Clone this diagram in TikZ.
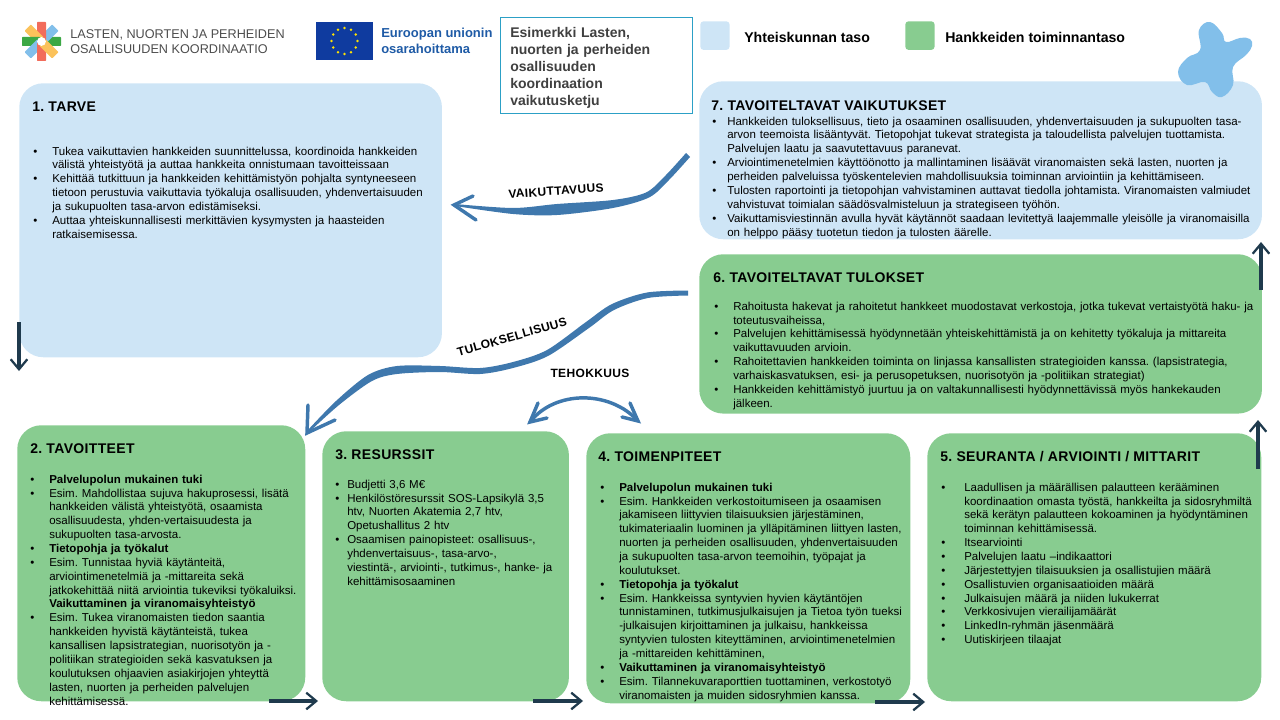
\documentclass[tikz,border=0pt]{standalone}
\usepackage{fontspec}
\setmainfont{Liberation Sans}
\usetikzlibrary{arrows.meta}
\frenchspacing
\definecolor{lightb}{HTML}{CEE5F6}
\definecolor{greenb}{HTML}{88CC90}
\definecolor{blobc}{HTML}{82BFEA}
\definecolor{brush}{HTML}{3F78AD}
\definecolor{darkarr}{HTML}{1F3A4D}
\definecolor{lgreen}{HTML}{3CA845}
\definecolor{lred}{HTML}{F26C5B}
\definecolor{lyellow}{HTML}{FBC25B}
\definecolor{eublue}{HTML}{0F3B9F}
\definecolor{eutext}{HTML}{1F5BA6}
\newlength{\ind}
\newcommand{\itm}{\par\leavevmode\llap{\makebox[\ind][l]{\textbullet}}}
\newcommand{\nob}{\par\leavevmode}
\tikzset{
	card/.style={anchor=north west,inner sep=0pt,rounded corners=18pt},
	tbox/.style={card,fill=lightb},
	gbox/.style={card,fill=greenb},
	swatch/.style={anchor=north west,inner sep=0pt,rounded corners=2.5pt,minimum width=22pt,minimum height=21.5pt},
	legend/.style={anchor=west,inner sep=0pt,font=\bfseries\fontsize{10.6}{12}\selectfont},
	head/.style={anchor=west,inner sep=0pt,font=\bfseries\fontsize{10.5}{12}\selectfont\addfontfeature{LetterSpace=2.4}},
	body/.style={anchor=north west,inner sep=0pt,text width=420pt,align=left,font=\fontsize{8.62}{10.4}\selectfont},
	flow/.style={draw=darkarr,line width=2.4pt,-{Straight Barb[length=7.5pt,width=12.5pt,line width=1.7pt]}},
	brushed/.style={draw=brush,line width=2.6pt,line cap=round},
	word/.style={inner sep=0pt,font=\bfseries\fontsize{9}{11}\selectfont\addfontfeature{LetterSpace=3}}
}
\begin{document}
\begin{tikzpicture}[x=0.75pt,y=-0.75pt]
\useasboundingbox (0,0) rectangle (1280,720);
\node[tbox,minimum width=317pt,minimum height=205.5pt] (tarve) at (19,83) {};
\node[tbox,minimum width=422pt,minimum height=118.5pt] (vaikutukset) at (699,81) {};
\node[gbox,minimum width=422pt,minimum height=119.5pt] (tulokset) at (699,254) {};
\node[gbox,minimum width=216pt,minimum height=207pt] (tavoitteet) at (17,425) {};
\node[gbox,minimum width=185pt,minimum height=202.5pt] (resurssit) at (322,431) {};
\node[gbox,minimum width=243pt,minimum height=202.5pt] (toimenpiteet) at (586,433) {};
\node[gbox,minimum width=250.5pt,minimum height=201pt] (seuranta) at (927,433) {};
\fill[blobc] plot[smooth cycle,tension=0.7] coordinates {(1210,22) (1222,33) (1226,42) (1240,38) (1250,39) (1252,46) (1246,55) (1233,67) (1233,85) (1222,97) (1212,92) (1205,82) (1187,85) (1178,72) (1187,58) (1200,50) (1199,30)};
\node[swatch,fill=lightb] (taso1) at (700,21) {};
\node[swatch,fill=greenb] (taso2) at (905,21) {};
\node[legend] (taso1txt) at (744,37) {Yhteiskunnan taso};
\node[legend] (taso2txt) at (945,37) {Hankkeiden toiminnantaso};
\node[draw=brush!70!cyan,line width=0.8pt,fill=white,anchor=north west,inner sep=0pt,minimum width=144pt,minimum height=72pt] (otsikko) at (500,17) {};
\node[anchor=north west,inner sep=0pt,text width=140pt,align=left,text=black!75,font=\bfseries\fontsize{10.5}{12.7}\selectfont] (otsikkotxt) at (510,27.5) {Esimerkki Lasten,\\nuorten ja perheiden\\osallisuuden\\koordinaation\\vaikutusketju};
\foreach \a/\c in {0/lgreen,45/blobc,90/lred,135/lyellow,180/lgreen,225/blobc,270/lred,315/lyellow}
	\fill[\c,rounded corners=0.5pt,rotate around={\a:(41.5,41.5)}] (43,37) rectangle (61,46);
\fill[white] (41.5,41.5) circle (3.3pt);
\node[anchor=west,inner sep=0pt,text=black!70,align=left,font=\fontsize{9.5}{11.3}\selectfont] (logotxt) at (70,42) {LASTEN, NUORTEN JA PERHEIDEN\\OSALLISUUDEN KOORDINAATIO};
\fill[eublue] (316,22) rectangle (373,60);
\foreach \a in {0,30,...,330}
	\fill[yellow!85!orange] (344.5,41)+(\a:13) circle (1.1pt);
\node[anchor=west,inner sep=0pt,text=eutext,align=left,font=\bfseries\fontsize{9.75}{12}\selectfont] (eutxt) at (381,40.5) {Euroopan unionin\\osarahoittama};

\node[head] (h1) at (32,107) {1. TARVE};
\node[head] (h2) at (30,449) {2. TAVOITTEET};
\node[head] (h3) at (335,455) {3. RESURSSIT};
\node[head] (h4) at (598,457) {4. TOIMENPITEET};
\node[head] (h5) at (940,457) {5. SEURANTA / ARVIOINTI / MITTARIT};
\node[head] (h6) at (713,278) {6. TAVOITELTAVAT TULOKSET};
\node[head] (h7) at (711,106) {7. TAVOITELTAVAT VAIKUTUKSET};

\node[body] (t1) at (52,141) {\setlength{\ind}{14.25pt}
	\itm Tukea vaikuttavien hankkeiden suunnittelussa, koordinoida hankkeiden\\
	välistä yhteistyötä ja auttaa hankkeita onnistumaan tavoitteissaan
	\itm Kehittää tutkittuun ja hankkeiden kehittämistyön pohjalta syntyneeseen\\
	tietoon perustuvia vaikuttavia työkaluja osallisuuden, yhdenvertaisuuden\\
	ja sukupuolten tasa-arvon edistämiseksi.
	\itm Auttaa yhteiskunnallisesti merkittävien kysymysten ja haasteiden\\
	ratkaisemisessa.};
\node[body] (t2) at (49,469) {\setlength{\ind}{14.25pt}
	\itm \textbf{Palvelupolun mukainen tuki}
	\itm Esim. Mahdollistaa sujuva hakuprosessi, lisätä\\
	hankkeiden välistä yhteistyötä, osaamista\\
	osallisuudesta, yhden-vertaisuudesta ja\\
	sukupuolten tasa-arvosta.
	\itm \textbf{Tietopohja ja työkalut}
	\itm Esim. Tunnistaa hyviä käytänteitä,\\
	arviointimenetelmiä ja -mittareita sekä\\
	jatkokehittää niitä arviointia tukeviksi työkaluiksi.
	\nob \textbf{Vaikuttaminen ja viranomaisyhteistyö}
	\itm Esim. Tukea viranomaisten tiedon saantia\\
	hankkeiden hyvistä käytänteistä, tukea\\
	kansallisen lapsistrategian, nuorisotyön ja -\\
	politiikan strategioiden sekä kasvatuksen ja\\
	koulutuksen ohjaavien asiakirjojen yhteyttä\\
	lasten, nuorten ja perheiden palvelujen\\
	kehittämisessä.};
\node[body] (t3) at (347,474) {\setlength{\ind}{9pt}
	\itm Budjetti 3,6 M€
	\itm Henkilöstöresurssit SOS-Lapsikylä 3,5\\
	htv, Nuorten Akatemia 2,7 htv,\\
	Opetushallitus 2 htv
	\itm Osaamisen painopisteet: osallisuus-,\\
	yhdenvertaisuus-, tasa-arvo-,\\
	viestintä-, arviointi-, tutkimus-, hanke- ja\\
	kehittämisosaaminen};
\node[body] (t4) at (619,477) {\setlength{\ind}{14.25pt}
	\itm \textbf{Palvelupolun mukainen tuki}
	\itm Esim. Hankkeiden verkostoitumiseen ja osaamisen\\
	jakamiseen liittyvien tilaisuuksien järjestäminen,\\
	tukimateriaalin luominen ja ylläpitäminen liittyen lasten,\\
	nuorten ja perheiden osallisuuden, yhdenvertaisuuden\\
	ja sukupuolten tasa-arvon teemoihin, työpajat ja\\
	koulutukset.
	\itm \textbf{Tietopohja ja työkalut}
	\itm Esim. Hankkeissa syntyvien hyvien käytäntöjen\\
	tunnistaminen, tutkimusjulkaisujen ja Tietoa työn tueksi\\
	-julkaisujen kirjoittaminen ja julkaisu, hankkeissa\\
	syntyvien tulosten kiteyttäminen, arviointimenetelmien\\
	ja -mittareiden kehittäminen,
	\itm \textbf{Vaikuttaminen ja viranomaisyhteistyö}
	\itm Esim. Tilannekuvaraporttien tuottaminen, verkostotyö\\
	viranomaisten ja muiden sidosryhmien kanssa.};
\node[body] (t5) at (964,477) {\setlength{\ind}{17.25pt}
	\itm Laadullisen ja määrällisen palautteen kerääminen\\
	koordinaation omasta työstä, hankkeilta ja sidosryhmiltä\\
	sekä kerätyn palautteen kokoaminen ja hyödyntäminen\\
	toiminnan kehittämisessä.
	\itm Itsearviointi
	\itm Palvelujen laatu –indikaattori
	\itm Järjestettyjen tilaisuuksien ja osallistujien määrä
	\itm Osallistuvien organisaatioiden määrä
	\itm Julkaisujen määrä ja niiden lukukerrat
	\itm Verkkosivujen vierailijamäärät
	\itm LinkedIn-ryhmän jäsenmäärä
	\itm Uutiskirjeen tilaajat};
\node[body] (t6) at (733,296) {\setlength{\ind}{14.25pt}
	\itm Rahoitusta hakevat ja rahoitetut hankkeet muodostavat verkostoja, jotka tukevat vertaistyötä haku- ja\\
	toteutusvaiheissa,
	\itm Palvelujen kehittämisessä hyödynnetään yhteiskehittämistä ja on kehitetty työkaluja ja mittareita\\
	vaikuttavuuden arvioin.
	\itm Rahoitettavien hankkeiden toiminta on linjassa kansallisten strategioiden kanssa. (lapsistrategia,\\
	varhaiskasvatuksen, esi- ja perusopetuksen, nuorisotyön ja -politiikan strategiat)
	\itm Hankkeiden kehittämistyö juurtuu ja on valtakunnallisesti hyödynnettävissä myös hankekauden\\
	jälkeen.};
\node[body] (t7) at (727,111) {\setlength{\ind}{11.25pt}
	\itm Hankkeiden tuloksellisuus, tieto ja osaaminen osallisuuden, yhdenvertaisuuden ja sukupuolten tasa-\\
	arvon teemoista lisääntyvät. Tietopohjat tukevat strategista ja taloudellista palvelujen tuottamista.\\
	Palvelujen laatu ja saavutettavuus paranevat.
	\itm Arviointimenetelmien käyttöönotto ja mallintaminen lisäävät viranomaisten sekä lasten, nuorten ja\\
	perheiden palveluissa työskentelevien mahdollisuuksia toiminnan arviointiin ja kehittämiseen.
	\itm Tulosten raportointi ja tietopohjan vahvistaminen auttavat tiedolla johtamista. Viranomaisten valmiudet\\
	vahvistuvat toimialan säädösvalmisteluun ja strategiseen työhön.
	\itm Vaikuttamisviestinnän avulla hyvät käytännöt saadaan levitettyä laajemmalle yleisölle ja viranomaisilla\\
	on helppo pääsy tuotetun tiedon ja tulosten äärelle.};

\coordinate (v1) at (19,322);
\coordinate (v2) at (19,371);
\coordinate (a2s) at (269,701);
\coordinate (a2e) at (318,701);
\coordinate (a3s) at (533,701);
\coordinate (a3e) at (583,701);
\coordinate (a4s) at (875,702);
\coordinate (a4e) at (925,702);
\coordinate (a5s) at (1258,469);
\coordinate (a5e) at (1258,420);
\coordinate (a6s) at (1261,290);
\coordinate (a6e) at (1261,242);
\draw[flow] (v1) -- (v2);
\draw[flow] (a2s) -- (a2e);
\draw[flow] (a3s) -- (a3e);
\draw[flow] (a4s) -- (a4e);
\draw[flow] (a5s) -- (a5e);
\draw[flow] (a6s) -- (a6e);

\fill[brush] plot[smooth] coordinates {(686,153) (665.5,175.5) (646,192.5) (613,200) (557,204) (513,208) (455,204)}
	-- plot[smooth] coordinates {(455,206) (513,214) (557,215) (613,208) (649,197.5) (668.5,180.5) (690,157)} -- cycle;
\coordinate (vtip) at (454,205);
\coordinate (vw1) at (473,196);
\coordinate (vw2) at (476,220);
\draw[brushed] (vw1) -- (vtip) -- (vw2);
\fill[brush] plot[smooth] coordinates {(688,290.5) (647,292.5) (612,304) (586,322) (547,350) (513,362) (480,368) (440,366) (397,366) (368,375) (336,401) (307,431)}
	-- plot[smooth] coordinates {(307,434) (339,405) (372,381) (397,374) (440,372) (480,374) (513,368) (548,356) (589,328) (614,310) (648,298) (688,295.5)} -- cycle;
\coordinate (ttip) at (307,433);
\coordinate (tw1) at (308,405);
\coordinate (tw2) at (335,420);
\draw[brushed] (tw1) -- (ttip) -- (tw2);
\coordinate (ea) at (530,422);
\coordinate (eb) at (638,421);
\coordinate (ea1) at (538,403);
\coordinate (ea2) at (547,418);
\coordinate (eb1) at (630,403);
\coordinate (eb2) at (622,417);
\draw[brushed] (ea) .. controls (555,390) and (610,390) .. (eb);
\draw[brushed] (ea1) -- (ea) -- (ea2);
\draw[brushed] (eb1) -- (eb) -- (eb2);

\node[word,rotate=4] (vaik) at (556,191) {VAIKUTTAVUUS};
\node[word,rotate=16] (tulos) at (512,337) {TULOKSELLISUUS};
\node[word] (teho) at (590,373) {TEHOKKUUS};
\end{tikzpicture}
\end{document}
